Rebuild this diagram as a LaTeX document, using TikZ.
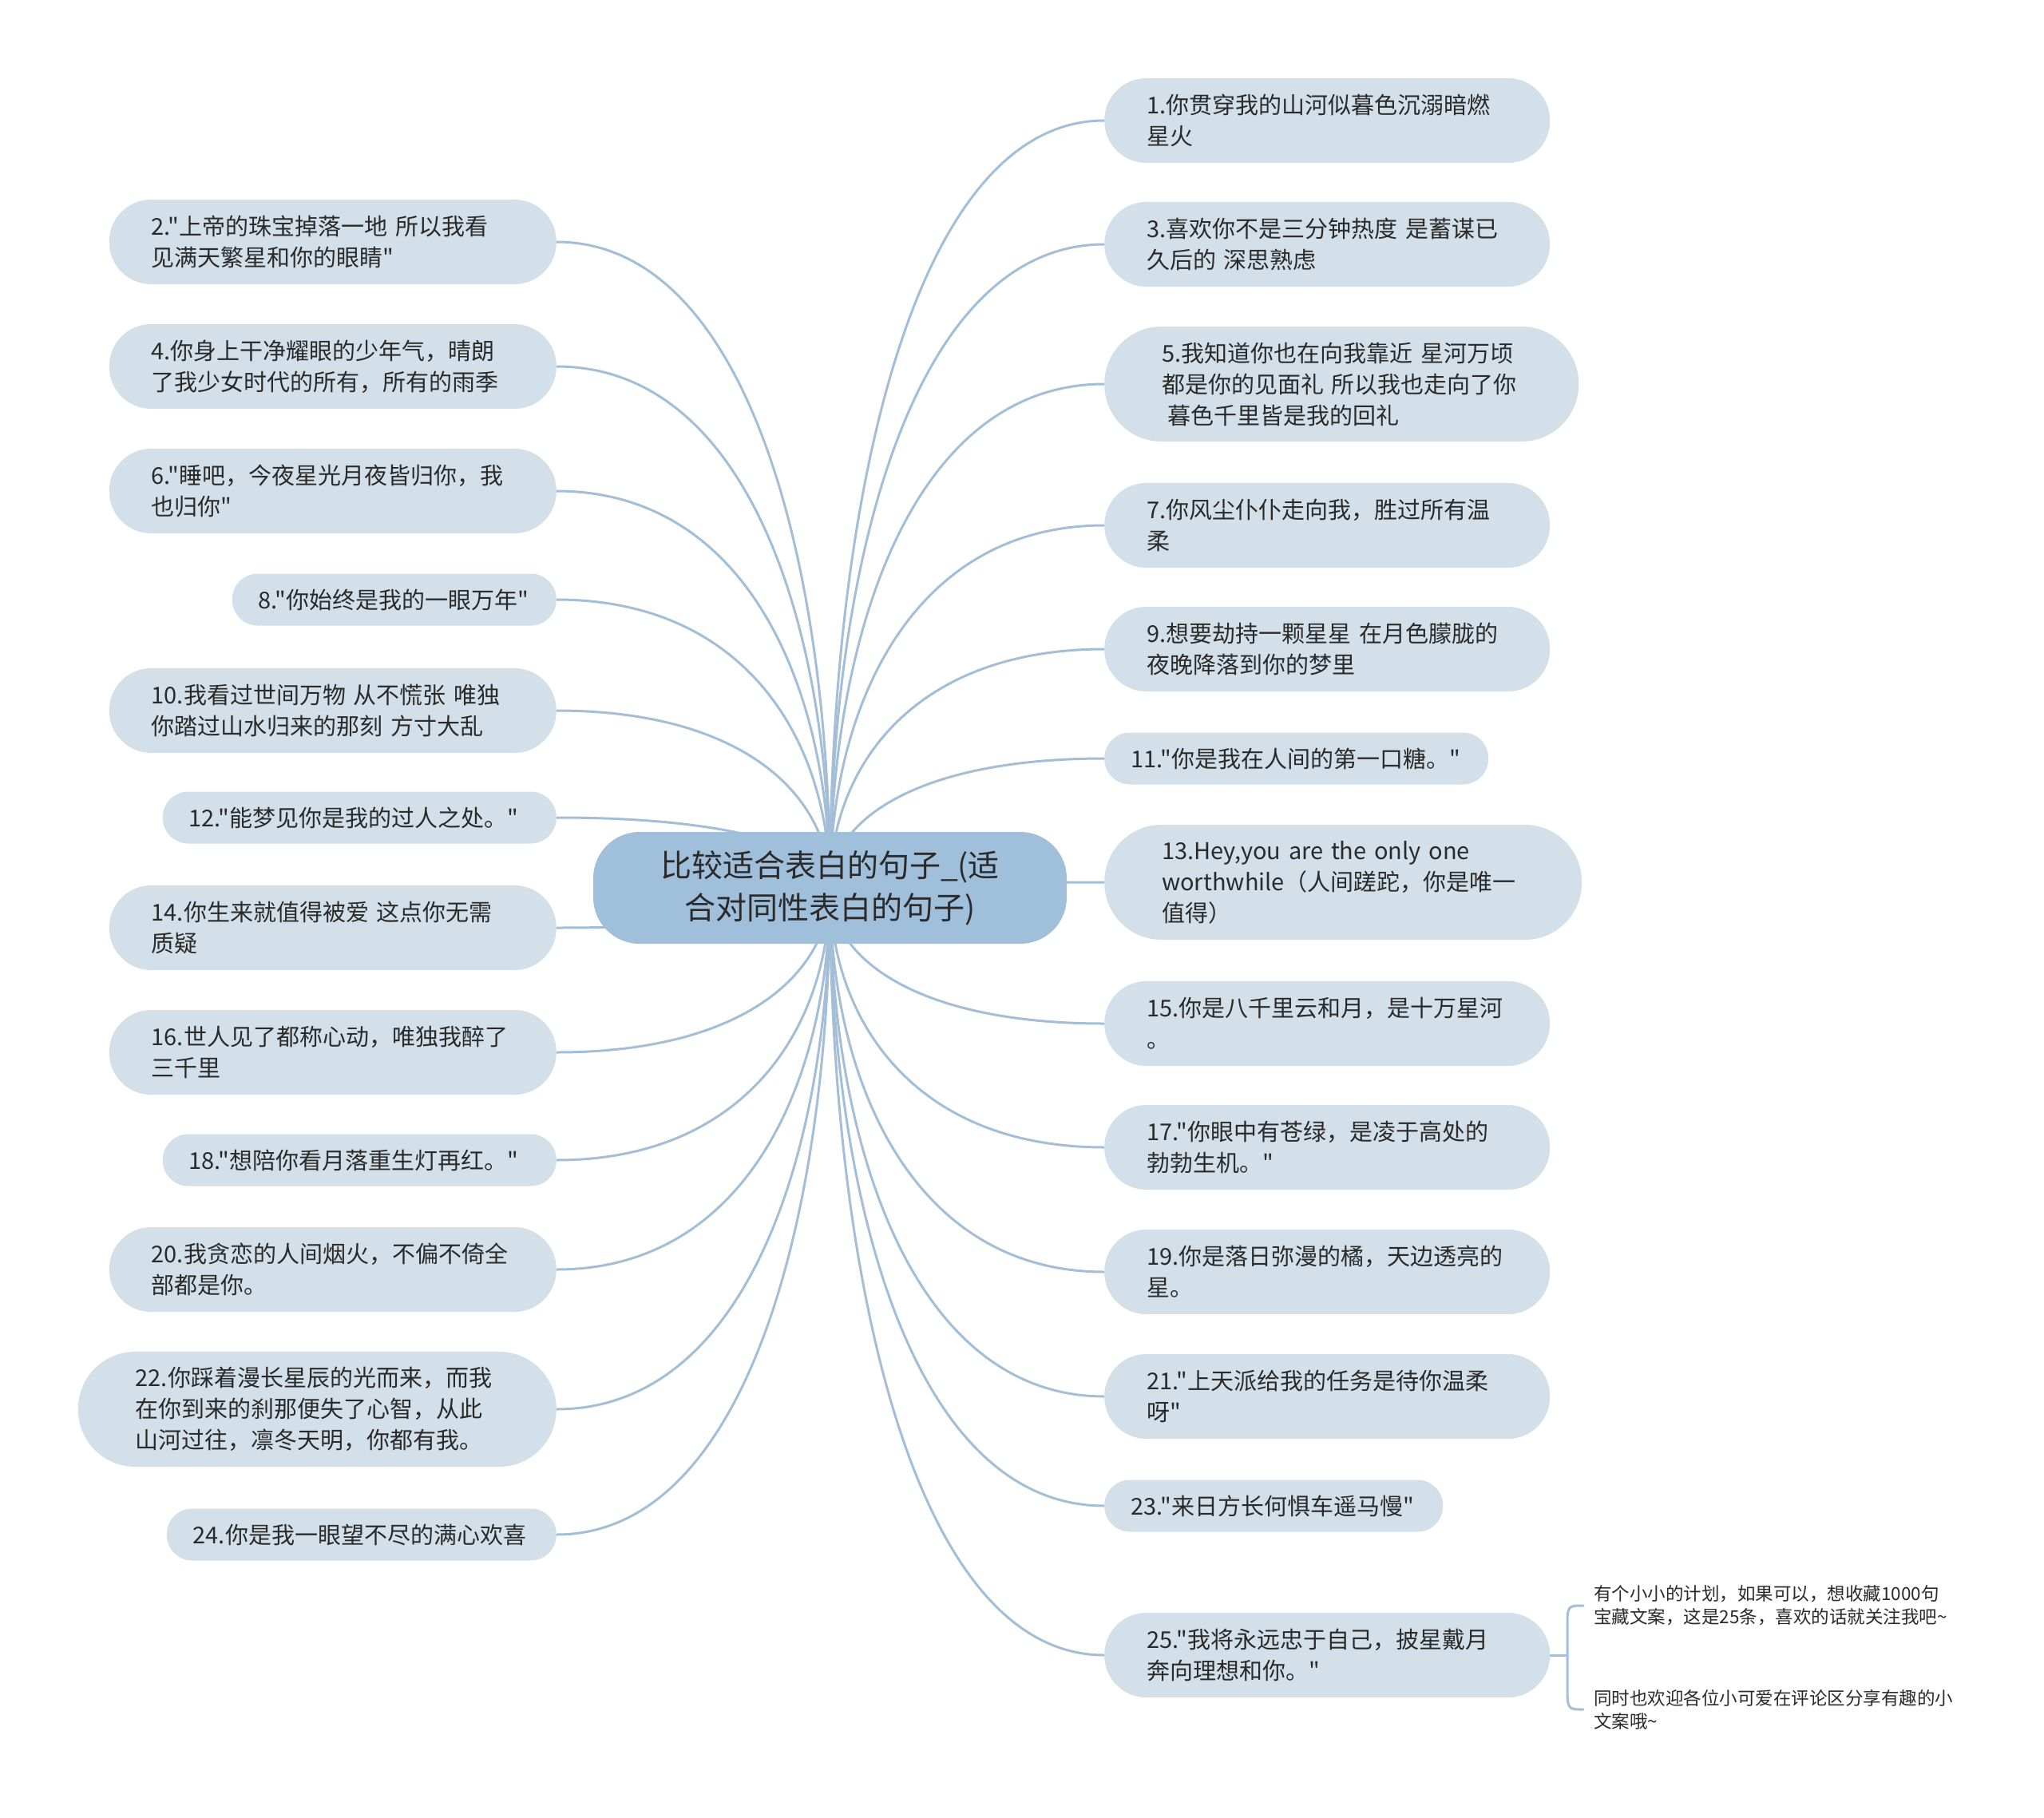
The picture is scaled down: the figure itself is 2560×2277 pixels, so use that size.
\documentclass[tikz,border=0pt]{standalone}
\usepackage{fontspec}
\setmainfont{Noto Sans CJK SC}[Ligatures=TeXOff]
\usetikzlibrary{calc}
\definecolor{leafc}{HTML}{D3E0EA}
\definecolor{rootc}{HTML}{A0BFDB}
\definecolor{linec}{HTML}{A3BED6}
\definecolor{txtc}{HTML}{2A2A2A}
\pgfdeclarelayer{bg}
\pgfsetlayers{bg,main}
\tikzset{
  leaf/.style={rectangle, fill=leafc, text=txtc, align=left, inner ysep=0pt,
    font=\fontsize{29}{39}\selectfont},
  lone/.style={leaf, minimum height=65pt, rounded corners=32pt, inner xsep=33pt},
  ltwo/.style={leaf, minimum height=106pt, rounded corners=52.5pt, inner xsep=53pt},
  lthree/.style={leaf, minimum height=144pt, rounded corners=71.5pt, inner xsep=72pt},
  rootnode/.style={rectangle, fill=rootc, text=txtc, align=center, inner sep=0pt,
    minimum width=593pt, minimum height=140pt, rounded corners=58pt,
    font=\fontsize{39}{53}\selectfont},
  note/.style={text=txtc, align=left, inner sep=0pt, font=\fontsize{22.5}{29}\selectfont},
  conn/.style={draw=linec, line width=3pt, line cap=round},
}
\newcommand\linkto[2]{%
  \coordinate (m#1) at ($(c.center)!0.5!(#1.#2)$);
  \coordinate (p#1) at ($(c.center)!0.3!(#1.#2)$);
  \draw[conn] (c.center) .. controls (c.center |- m#1) and (p#1 |- #1.#2) .. (#1.#2);}
\begin{document}
\begin{tikzpicture}[x=1pt,y=-1pt]
\useasboundingbox (0,0) rectangle (2560,2277);
% root
\node[rootnode] (c) at (1039.5,1112) {比较适合表白的句子\_(适\\合对同性表白的句子)};
% right side
\node[ltwo, text width=452pt, anchor=west] (r1) at (1383,151) {1.你贯穿我的山河似暮色沉溺暗燃\\星火};
\node[ltwo, text width=452pt, anchor=west] (r3) at (1383,306) {3.喜欢你不是三分钟热度~是蓄谋已\\久后的~深思熟虑};
\node[lthree, text width=450pt, anchor=west] (r5) at (1383,481) {5.我知道你也在向我靠近~星河万顷\\都是你的见面礼~所以我也走向了你\\\hspace*{7pt}暮色千里皆是我的回礼};
\node[ltwo, text width=452pt, anchor=west] (r7) at (1383,658) {7.你风尘仆仆走向我，胜过所有温\\柔};
\node[ltwo, text width=452pt, anchor=west] (r9) at (1383,813) {9.想要劫持一颗星星~在月色朦胧的\\夜晚降落到你的梦里};
\node[lone, text width=415pt, anchor=west] (r11) at (1383,950) {11."你是我在人间的第一口糖。"};
\node[lthree, text width=454pt, anchor=west] (r13) at (1383,1105) {13.Hey,you~are~the~only~one\\worthwhile（人间蹉跎，你是唯一\\值得）};
\node[ltwo, text width=452pt, anchor=west] (r15) at (1383,1282) {15.你是八千里云和月，是十万星河\\。};
\node[ltwo, text width=452pt, anchor=west] (r17) at (1383,1437) {17."你眼中有苍绿，是凌于高处的\\勃勃生机。"};
\node[ltwo, text width=452pt, anchor=west] (r19) at (1383,1593) {19.你是落日弥漫的橘，天边透亮的\\星。};
\node[ltwo, text width=452pt, anchor=west] (r21) at (1383,1749) {21."上天派给我的任务是待你温柔\\呀"};
\node[lone, text width=358pt, anchor=west] (r23) at (1383,1886) {23."来日方长何惧车遥马慢"};
\node[ltwo, text width=452pt, anchor=west] (r25) at (1383,2073) {25."我将永远忠于自己，披星戴月\\奔向理想和你。"};
% left side
\node[ltwo, text width=454pt, anchor=east] (l2) at (697,303) {2."上帝的珠宝掉落一地~所以我看\\见满天繁星和你的眼睛"};
\node[ltwo, text width=454pt, anchor=east] (l4) at (697,459) {4.你身上干净耀眼的少年气，晴朗\\了我少女时代的所有，所有的雨季};
\node[ltwo, text width=454pt, anchor=east] (l6) at (697,615) {6."睡吧，今夜星光月夜皆归你，我\\也归你"};
\node[lone, text width=340pt, anchor=east] (l8) at (697,751) {8."你始终是我的一眼万年"};
\node[ltwo, text width=454pt, anchor=east] (l10) at (697,890) {10.我看过世间万物~从不慌张~唯独\\你踏过山水归来的那刻~方寸大乱};
\node[lone, text width=427pt, anchor=east] (l12) at (697,1024) {12."能梦见你是我的过人之处。"};
\node[ltwo, text width=454pt, anchor=east] (l14) at (697,1162) {14.你生来就值得被爱~这点你无需\\质疑};
\node[ltwo, text width=454pt, anchor=east] (l16) at (697,1318) {16.世人见了都称心动，唯独我醉了\\三千里};
\node[lone, text width=427pt, anchor=east] (l18) at (697,1453) {18."想陪你看月落重生灯再红。"};
\node[ltwo, text width=454pt, anchor=east] (l20) at (697,1590) {20.我贪恋的人间烟火，不偏不倚全\\部都是你。};
\node[lthree, text width=455pt, anchor=east] (l22) at (697,1765) {22.你踩着漫长星辰的光而来，而我\\在你到来的刹那便失了心智，从此\\山河过往，凛冬天明，你都有我。};
\node[lone, text width=422pt, anchor=east] (l24) at (697,1922) {24.你是我一眼望不尽的满心欢喜};
% notes
\node[note, anchor=west] (n1) at (1996,2011) {有个小小的计划，如果可以，想收藏1000句\\宝藏文案，这是25条，喜欢的话就关注我吧\textasciitilde};
\node[note, anchor=west] (n2) at (1996,2141) {同时也欢迎各位小可爱在评论区分享有趣的小\\文案哦\textasciitilde};
\begin{pgfonlayer}{bg}
\fill[white] (0,0) rectangle (2560,2277);
\foreach \n in {r1,r3,r5,r7,r9,r11,r13,r15,r17,r19,r21,r23,r25}{\linkto{\n}{west}}
\foreach \n in {l2,l4,l6,l8,l10,l12,l14,l16,l18,l20,l22,l24}{\linkto{\n}{east}}
\coordinate (bk) at (1963,2073);
\draw[conn] (r25.east) -- (bk);
\draw[conn] ([xshift=-13pt]n1.west) .. controls (bk |- n1.west) .. (1963,2040) -- (1963,2110) .. controls (bk |- n2.west) .. ([xshift=-13pt]n2.west);
\end{pgfonlayer}
\end{tikzpicture}
\end{document}
